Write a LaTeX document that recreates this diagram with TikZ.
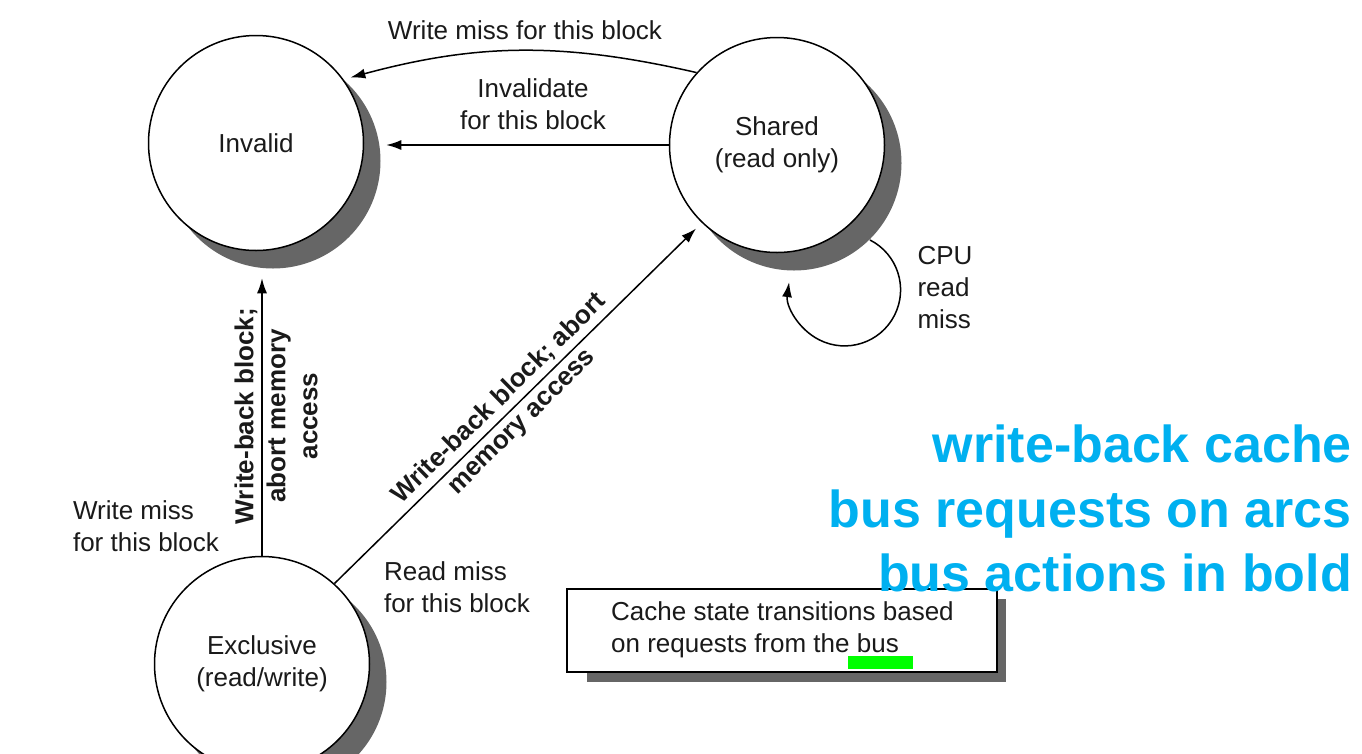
\documentclass[tikz,border=0pt]{standalone}
\usepackage{fontspec}
\setmainfont{Liberation Sans}
\usetikzlibrary{arrows.meta,shadows}
\definecolor{txt}{HTML}{1A1A1A}
\definecolor{shad}{HTML}{666666}
\definecolor{blu}{HTML}{00B0F0}
\definecolor{hl}{HTML}{00FF00}
\begin{document}
\begin{tikzpicture}[x=1pt,y=-1pt,
  every node/.style={text=txt, font=\fontsize{26}{32}\selectfont},
  state/.style={circle, draw=black, line width=1.5pt, fill=white, minimum size=215pt, inner sep=0pt, align=center,
    drop shadow={shadow xshift=17pt, shadow yshift=-18pt, fill=shad, opacity=1}},
  arr/.style={line width=1.5pt, draw=black, -{Latex[length=15pt,width=10pt]}},
  lbl/.style={align=center, inner sep=0pt},
  lbll/.style={align=left, inner sep=0pt},
  bl/.style={lbl, font=\fontsize{26}{32}\selectfont\bfseries},
  notebox/.style={draw=black, line width=1.5pt, fill=white, inner sep=0pt,
    minimum width=430pt, minimum height=83pt},
  blue/.style={text=blu, font=\fontsize{52}{64}\selectfont\bfseries, inner sep=0pt, anchor=base east}
]
\useasboundingbox (0,0) rectangle (1362,753);

\node[state] (Invalid) at (256,143) {Invalid};
\node[state] (Shared) at (777,145) {Shared\\(read only)};
\node[state] (Exclusive) at (262,664) {Exclusive\\(read/write)};

% Shared -> Invalid (curved)
\draw[arr, shorten >=7pt] (Shared.138) to[bend right=14] (Invalid.36);
\node[lbl] (wm1) at (525,30) {Write miss for this block};

% Shared -> Invalid (straight)
\draw[arr, shorten >=22pt] (Shared.west) -- (Shared.west -| Invalid.east);
\node[lbl] (inv) at (533,104) {Invalidate\\for this block};

% Exclusive -> Invalid
\draw[arr, shorten >=27pt] (Exclusive.north) -- (Exclusive.north |- Invalid.south);
\node[bl, rotate=90] (wb1) at (276,416) {Write-back block;\\abort memory\\access};
\node[lbll] (wm2) at (146,526) {Write miss\\for this block};

% Exclusive -> Shared
\draw[arr, shorten >=8pt] (Exclusive.48) -- (Shared.226)
  node[bl, pos=0.48, sloped] (wb2) {Write-back block; abort\\memory access};
\node[lbll] (rm) at (457,587) {Read miss\\for this block};

% loop on Shared
\coordinate (loopS) at ([shift={(93,95)}]Shared.center);
\draw[arr] (loopS) arc[start angle=-63, end angle=188, radius=56];
\node[lbll] (cpu) at (945,288) {CPU\\read\\miss};

% note box with shadow
\fill[shad] (587,599) rectangle (1006,682);
\node[notebox] (note) at (782,630.5) {};
\node[lbll, anchor=west] (notetext) at (611,630) {Cache state transitions based\\on requests from the bus};
\fill[hl] (848,656) rectangle (913,669);

% blue caption
\node[blue] (c1) at (1352,462) {write-back cache};
\node[blue] (c2) at (1352,527) {bus requests on arcs};
\node[blue] (c3) at (1352,591) {bus actions in bold};
\end{tikzpicture}
\end{document}
